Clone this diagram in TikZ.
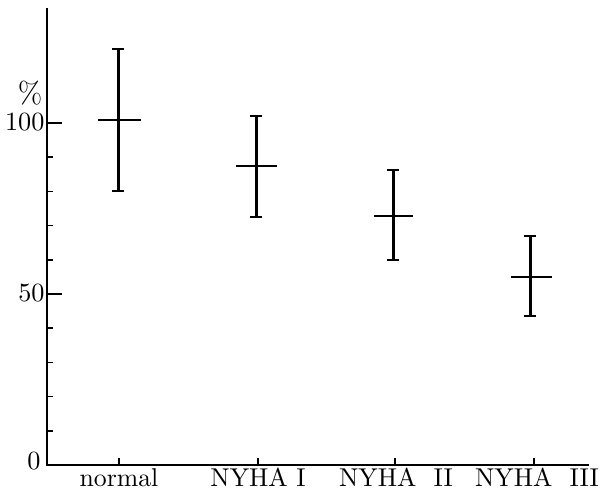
\documentclass[tikz,border=0pt]{standalone}
\begin{document}
\begin{tikzpicture}[x=0.4pt,y=-0.4pt,
  axis/.style={line width=0.8pt},
  tickline/.style={line width=0.7pt},
  errbar/.style={line width=1.2pt},
  capline/.style={line width=0.8pt},
  meanline/.style={line width=0.7pt},
  lbl/.style={font=\fontsize{10.5}{12}\selectfont, inner sep=0pt},
  catlbl/.style={font=\fontsize{10.3}{12}\selectfont, inner sep=0pt, anchor=base}]
\useasboundingbox (0,0) rectangle (601,494);
% axes
\coordinate (ytop) at (47,8);
\coordinate (orig) at (47,465);
\coordinate (xend) at (589,465);
\draw[axis] (ytop) -- (orig) -- (xend);
% y ticks (minor every 10, major at 50 and 100)
\foreach \v in {10,20,30,40,60,70,80,90}
  \draw[tickline] (47,{465-3.42*\v}) -- (53,{465-3.42*\v});
\foreach \v in {50,100}
  \draw[tickline] (47,{465-3.42*\v}) -- (62,{465-3.42*\v});
% x ticks
\foreach \x in {119,258,395,534}
  \draw[tickline] (\x,465) -- (\x,458);
% y labels
\node[lbl,anchor=east] (l0) at (41,461) {0};
\node[lbl,anchor=east] (l50) at (45,293) {50};
\node[lbl,anchor=east] (l100) at (45,122) {100};
\node[lbl,font=\fontsize{12}{14}\selectfont,anchor=south] (pct) at (30,106) {\%};
% category labels
\node[catlbl] (cn) at (119,486) {normal};
\node[catlbl] (c1) at (258,486) {NYHA I};
\node[catlbl] (c2) at (396,486) {NYHA\ \ II};
\node[catlbl] (c3) at (537,486) {NYHA\ \ III};
% error bars: x, top, bottom, mean, left/right of mean bar
\foreach \x/\t/\b/\m/\l/\r in {118/49/191/120/98/141, 256/116/217/166/236/277, 393/170/260/216/374/413, 530/236/316/277/511/552}{
  \draw[errbar] (\x,\t) -- (\x,\b);
  \draw[capline] (\x-6,\t) -- (\x+6,\t);
  \draw[capline] (\x-6,\b) -- (\x+6,\b);
  \draw[meanline] (\l,\m) -- (\r,\m);
}
\end{tikzpicture}
\end{document}
